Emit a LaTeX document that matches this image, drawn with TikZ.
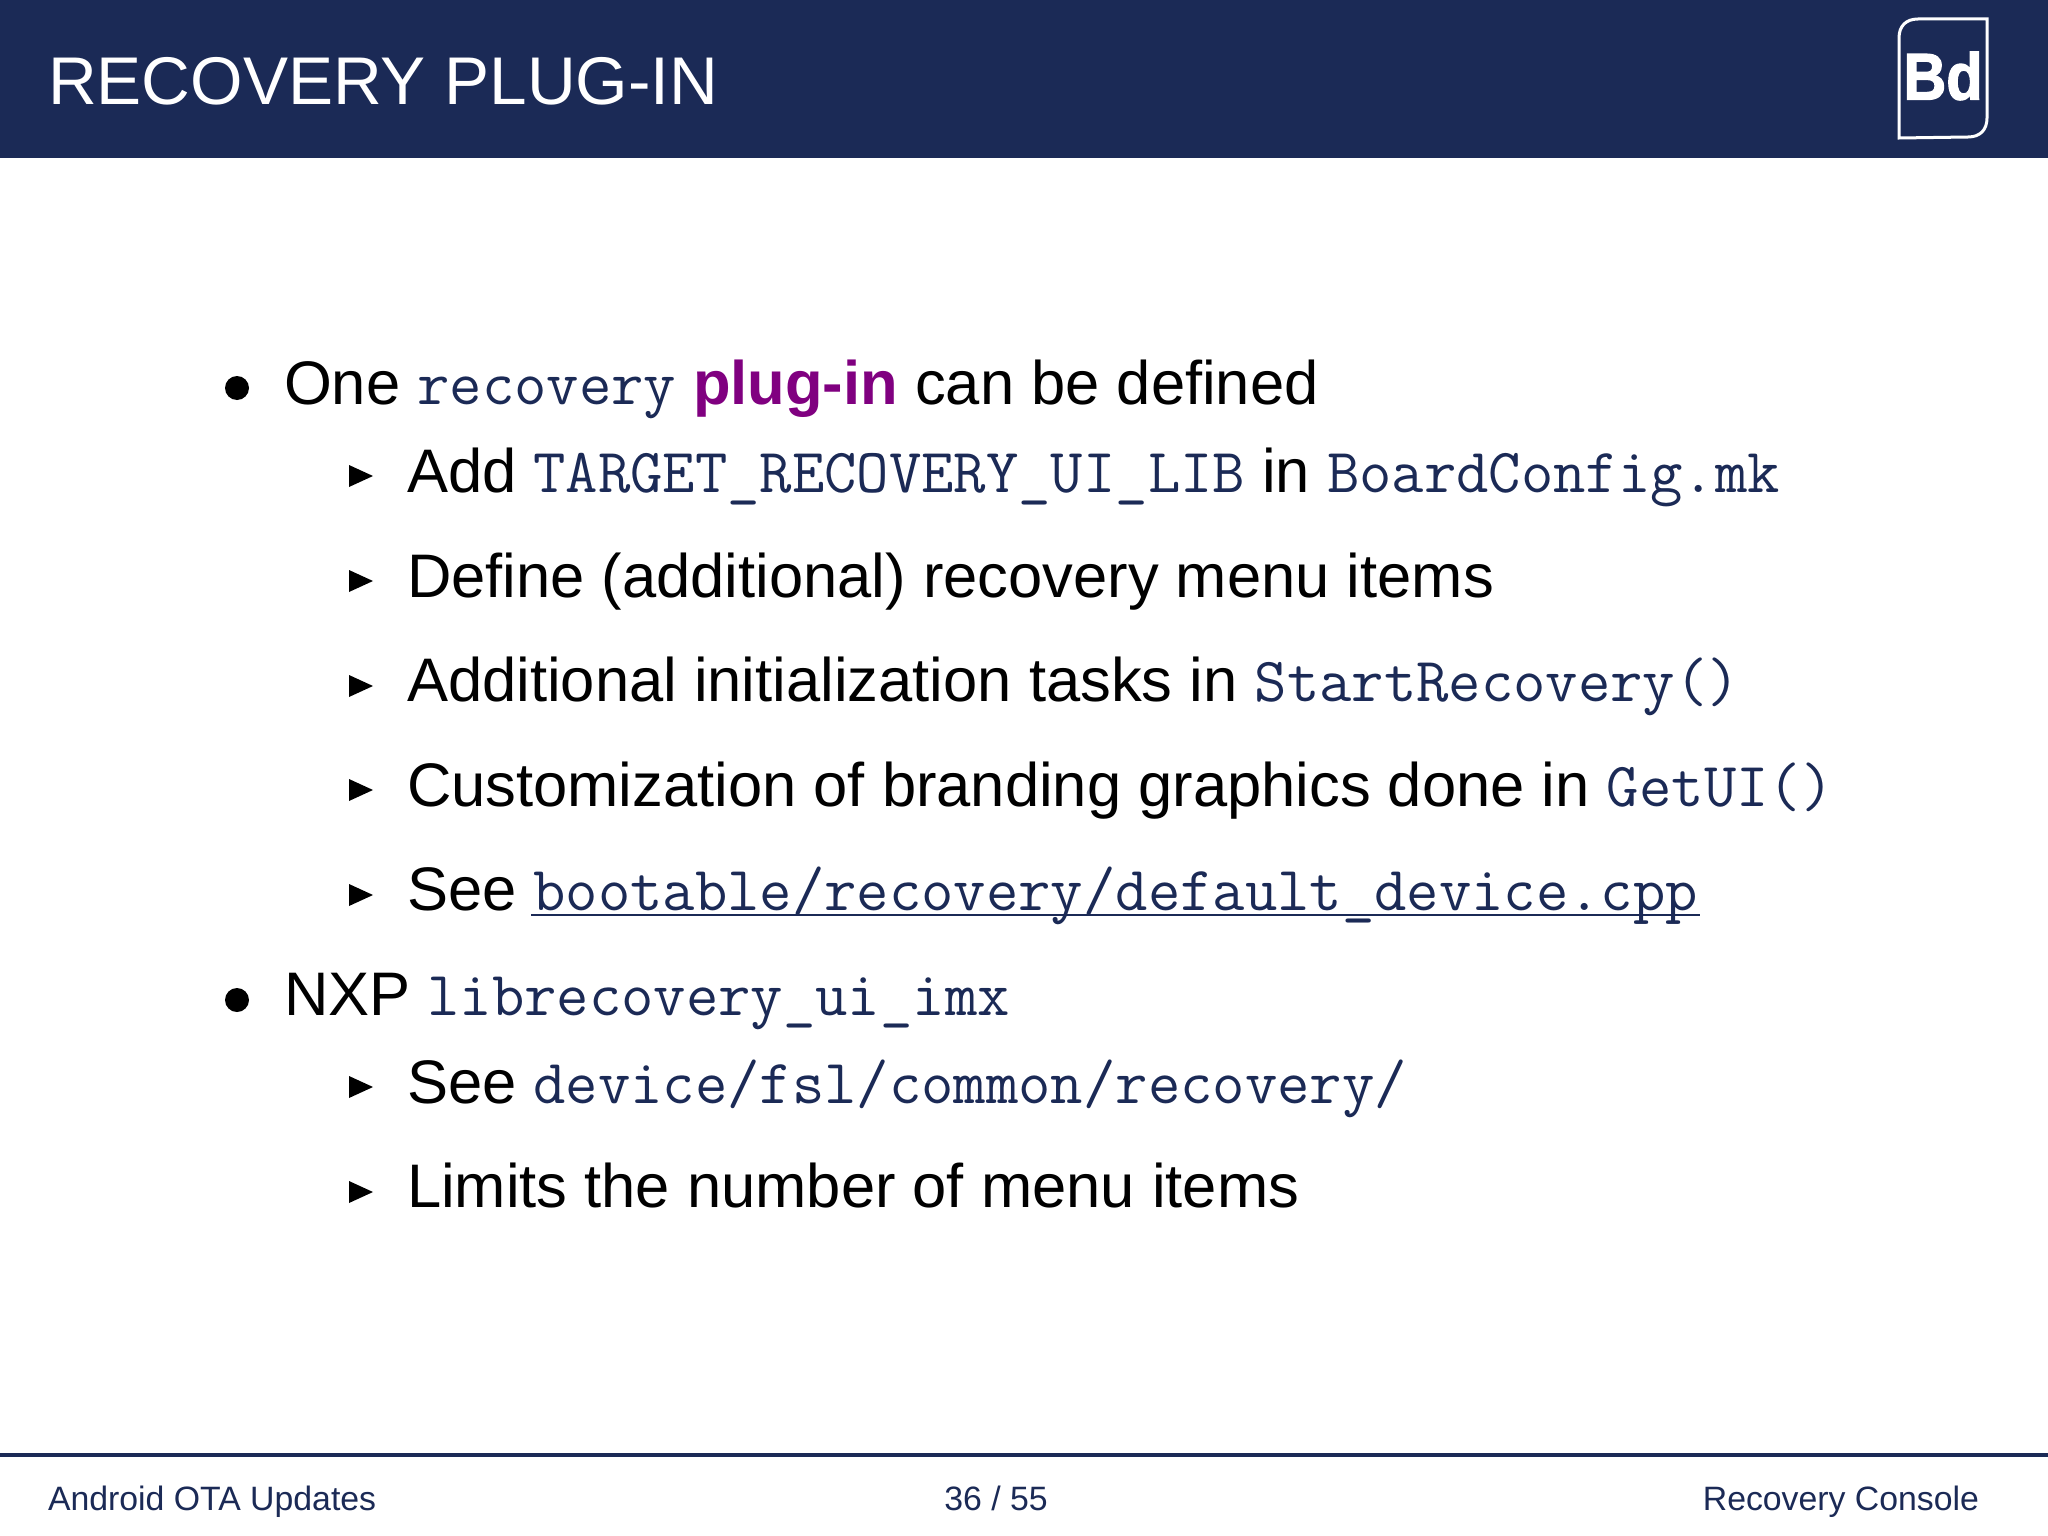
\documentclass[tikz,border=0pt]{standalone}
\usepackage{fontspec}
\setmainfont{Liberation Sans}
\newfontfamily\logofont[FakeBold=2]{Liberation Sans Bold}
\definecolor{navy}{HTML}{1B2A56}
\definecolor{plug}{HTML}{800080}
\newcommand{\cod}[1]{{\fontsize{62.8}{70}\selectfont\ttfamily\color{navy}#1}}
\newcommand{\usc}{\_}
\begin{document}
\begin{tikzpicture}[x=1pt,y=-1pt,
  lineitem/.style={anchor=base west,inner sep=0pt,outer sep=0pt,font=\fontsize{61.5}{70}\selectfont,text=black},
  foot/.style={inner sep=0pt,outer sep=0pt,font=\fontsize{33.8}{40}\selectfont,text=navy},
  dotmark/.style={fill=black,draw=none},
  trimark/.style={fill=black,draw=none}]
\useasboundingbox (0,0) rectangle (2048,1536);
\fill[white] (0,0) rectangle (2048,1536);
\fill[navy] (0,0) rectangle (2048,158);
\node[anchor=base west,inner sep=0pt,text=white,font=\fontsize{67.5}{75}\selectfont] (title) at (48,105) {RECOVERY PLUG-IN};
% logo
\draw[white,line width=3pt] (1899,138) -- (1899,38) .. controls (1899,26) and (1906,19) .. (1918,19) -- (1987,19) -- (1987,118) .. controls (1987,130) and (1980,137) .. (1968,137) -- cycle;
\node[anchor=base,inner sep=0pt,text=white,xscale=.9,font=\fontsize{66}{70}\selectfont\logofont] (logo) at (1943,99.5) {Bd};
% level one
\fill[dotmark] (237,388) circle (12);
\node[lineitem] (l1) at (284,404) {One \cod{recovery} {\bfseries\color{plug}plug-in} can be defined};
\fill[dotmark] (237,1000) circle (12);
\node[lineitem] (l2) at (284,1015) {NXP \cod{librecovery\usc ui\usc imx}};
% level two
\foreach \y in {492,597,702,806,911,1103,1208}{
  \fill[trimark] (349,\y-27) -- (373,\y-16) -- (349,\y-5) -- cycle;
}
\node[lineitem] (a) at (407,492) {Add \cod{TARGET\usc RECOVERY\usc UI\usc LIB} in \cod{BoardConfig.mk}};
\node[lineitem] (b) at (407,597) {Define (additional) recovery menu items};
\node[lineitem] (c) at (407,701.5) {Additional initialization tasks in \cod{StartRecovery()}};
\node[lineitem] (d) at (407,806) {Customization of branding graphics done in \cod{GetUI()}};
\node[lineitem] (e) at (407,910) {See \cod{bootable/recovery/default\usc device.cpp}};
\draw[navy,line width=2pt] (531,915) -- (1700,915);
\node[lineitem] (f) at (407,1103) {See \cod{device/fsl/common/recovery/}};
\node[lineitem] (g) at (407,1207.5) {Limits the number of menu items};
% footer
\draw[navy,line width=4pt] (0,1455) -- (2048,1455);
\node[foot,anchor=base west] (fl) at (48,1510) {Android OTA Updates};
\node[foot,anchor=base] (fm) at (996,1510) {36 / 55};
\node[foot,anchor=base east] (fr) at (1979,1510) {Recovery Console};
\end{tikzpicture}
\end{document}
